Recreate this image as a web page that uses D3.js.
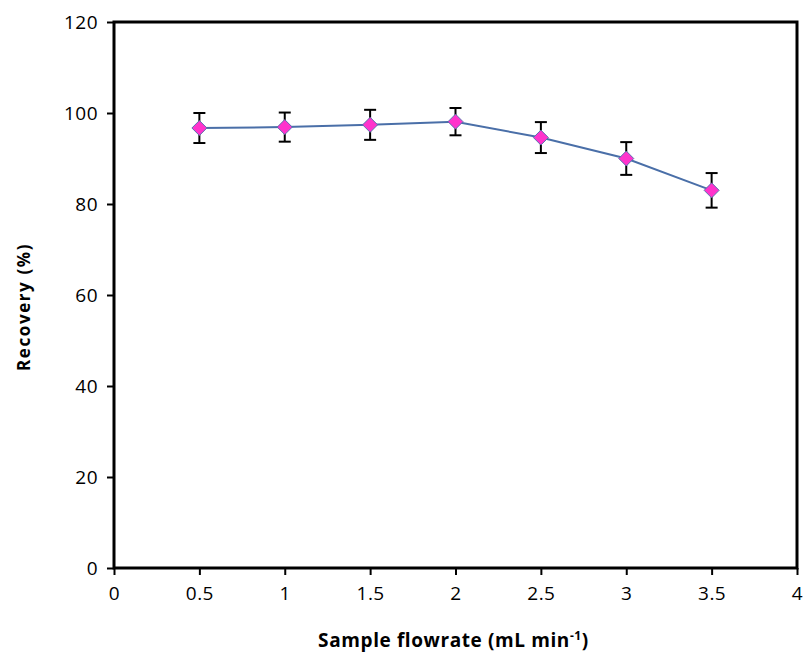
<!DOCTYPE html>
<html>
<head>
<meta charset="utf-8">
<script src="https://cdn.jsdelivr.net/npm/d3@7"></script>
<style>
  html, body { margin: 0; padding: 0; background: #fff; }
  svg { display: block; }
  text { font-family: "Open Sans", "Liberation Sans", sans-serif; fill: #000; }
</style>
</head>
<body>
<svg id="chart" width="803" height="658"></svg>
<script>
// Recovery vs. sample flowrate, with standard deviation bars
const flowrates = [0.5, 1.0, 1.5, 2.0, 2.5, 3.0, 3.5];
const recovery  = [96.7, 96.9, 97.4, 98.1, 94.6, 90.0, 83.0];
const errors    = [3.3, 3.2, 3.3, 3.0, 3.4, 3.6, 3.8];
const xTicks = [0, 0.5, 1, 1.5, 2, 2.5, 3, 3.5, 4];
const yTicks = [0, 20, 40, 60, 80, 100, 120];

const svg = d3.select("#chart");
const m = { left: 114, right: 797, top: 22, bottom: 568 };

const x = d3.scaleLinear().domain([0, 4]).range([m.left, m.right]);
const y = d3.scaleLinear().domain([0, 120]).range([m.bottom, m.top]);

// plot frame
svg.append("rect")
  .attr("x", m.left).attr("y", m.top)
  .attr("width", m.right - m.left).attr("height", m.bottom - m.top)
  .attr("fill", "none").attr("stroke", "#000").attr("stroke-width", 3);

// axes
const xAxis = svg.append("g")
  .attr("transform", `translate(0,${m.bottom})`)
  .call(d3.axisBottom(x).tickValues(xTicks).tickSize(7).tickSizeOuter(0)
        .tickFormat(d3.format("")));
const yAxis = svg.append("g")
  .attr("transform", `translate(${m.left},0)`)
  .call(d3.axisLeft(y).tickValues(yTicks).tickSize(7).tickSizeOuter(0));

[xAxis, yAxis].forEach(g => {
  g.select(".domain").remove();
  g.selectAll(".tick line").attr("stroke", "#000").attr("stroke-width", 2);
  g.selectAll(".tick text").style("font-size", "19px").style("letter-spacing", "0.5px").attr("fill", "#000");
});
xAxis.selectAll(".tick text").attr("dy", "1.15em");
yAxis.selectAll(".tick text").attr("x", -16).attr("dy", "0.35em");

// axis titles
const xt = svg.append("text")
  .attr("x", (m.left + m.right) / 2 - 2).attr("y", 647)
  .attr("text-anchor", "middle")
  .style("font-size", "19px").style("font-weight", "bold").style("letter-spacing", "0.6px");
xt.append("tspan").text("Sample flowrate (mL min");
xt.append("tspan").text("-1").attr("dy", -7).style("font-size", "12px");
xt.append("tspan").text(")").attr("dy", 7);

svg.append("text")
  .attr("transform", `translate(30,307) rotate(-90)`)
  .attr("text-anchor", "middle")
  .style("font-size", "17px").style("font-weight", "bold").style("letter-spacing", "1.6px")
  .text("Recovery (%)");

const data = flowrates.map((f, i) => ({ f, r: recovery[i], e: errors[i] }));

// connecting line
svg.append("path")
  .datum(data)
  .attr("fill", "none")
  .attr("stroke", "#4a6fa8")
  .attr("stroke-width", 2)
  .attr("d", d3.line().x(d => x(d.f)).y(d => y(d.r)));

// error bars
const eb = svg.append("g").attr("stroke", "#000").attr("stroke-width", 2);
data.forEach(d => {
  const cx = x(d.f);
  eb.append("line").attr("x1", cx).attr("x2", cx).attr("y1", y(d.r + d.e)).attr("y2", y(d.r - d.e));
  eb.append("line").attr("x1", cx - 6).attr("x2", cx + 6).attr("y1", y(d.r + d.e)).attr("y2", y(d.r + d.e));
  eb.append("line").attr("x1", cx - 6).attr("x2", cx + 6).attr("y1", y(d.r - d.e)).attr("y2", y(d.r - d.e));
});

// diamond markers
svg.append("g").selectAll("path")
  .data(data)
  .join("path")
  .attr("transform", d => `translate(${x(d.f)},${y(d.r)})`)
  .attr("d", "M0,-7.5L7.5,0L0,7.5L-7.5,0Z")
  .attr("fill", "#ff33cc")
  .attr("stroke", "#5a6fb0")
  .attr("stroke-width", 1);
</script>
</body>
</html>
